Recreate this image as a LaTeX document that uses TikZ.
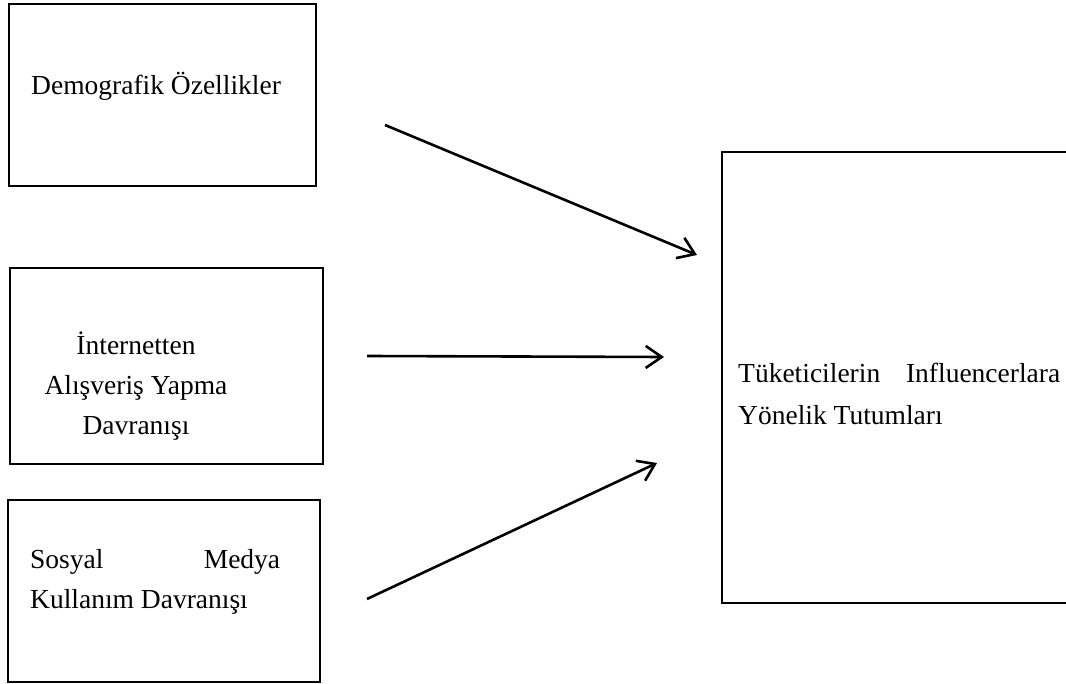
\documentclass[tikz,border=0pt]{standalone}
\usepackage{fontspec}
\setmainfont{Liberation Serif}
\usetikzlibrary{arrows.meta}

\tikzset{
  varbox/.style={draw, line width=2.8pt, inner sep=0pt},
  vartext/.style={inner sep=0pt, font=\fontsize{27.5}{40}\selectfont},
  link/.style={line width=2.6pt, -{Straight Barb[length=16pt,width=22pt,line width=2.6pt]}}
}

\begin{document}
\begin{tikzpicture}[x=1pt,y=-1pt]
  \clip (0,0) rectangle (1066,684);
  % boxes
  \node[varbox, minimum width=307pt, minimum height=182pt] (demo) at (162.5,95) {};
  \node[varbox, minimum width=313pt, minimum height=196pt] (alis) at (166.5,366) {};
  \node[varbox, minimum width=312pt, minimum height=182pt] (sosyal) at (164,591) {};
  \node[varbox, minimum width=358pt, minimum height=451pt] (tutum) at (901,377.5) {};
  % texts
  \node[vartext, anchor=base west] (demotext) at (31,95) {Demografik Özellikler};
  \node[vartext, anchor=base, align=center] (alistext) at (136,435)
    {İnternetten\\Alışveriş Yapma\\Davranışı};
  \node[vartext, anchor=base west, align=left] (sosyaltext) at (30,608)
    {\hbox to 250pt{Sosyal\hfill Medya}\\Kullanım Davranışı};
  \node[vartext, anchor=base west, align=left, font=\fontsize{27.5}{43}\selectfont] (tutumtext) at (738,425)
    {\hbox to 322pt{Tüketicilerin\hfill Influencerlara}\\Yönelik Tutumları};
  % arrows
  \coordinate (a1) at (385,125);
  \coordinate (b1) at (697,255);
  \coordinate (a2) at (367,356);
  \coordinate (b2) at (664,357);
  \coordinate (a3) at (367,599);
  \coordinate (b3) at (657,463);
  \draw[link] (a1) -- (b1);
  \draw[link] (a2) -- (b2);
  \draw[link] (a3) -- (b3);
\end{tikzpicture}
\end{document}
